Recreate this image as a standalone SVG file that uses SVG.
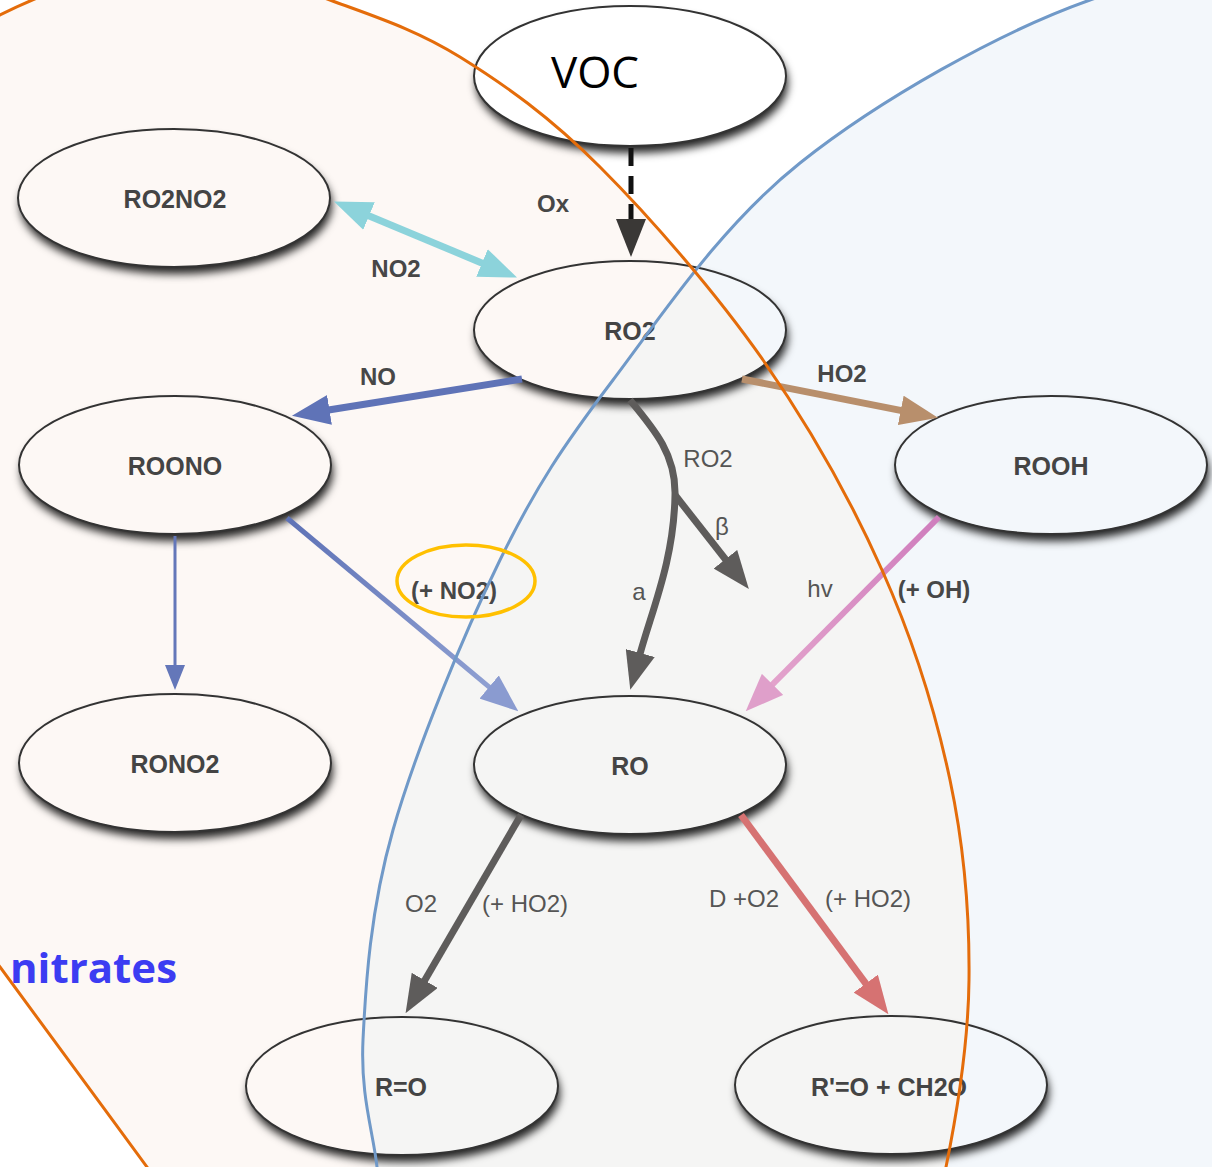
<svg xmlns="http://www.w3.org/2000/svg" width="1212" height="1167" viewBox="0 0 1212 1167">
<defs>
<style>
.node{fill:none;stroke:#333;stroke-width:2}
.shadow{fill:#000;filter:url(#sh)}
.nl{font-family:"Liberation Sans",Arial,sans-serif;font-weight:bold;font-size:25px;fill:#444;text-anchor:middle}
.el{font-family:"Liberation Sans",Arial,sans-serif;font-weight:bold;font-size:24px;fill:#474747;text-anchor:middle}
.er{font-family:"Liberation Sans",Arial,sans-serif;font-size:24px;fill:#555;text-anchor:middle}
.edge{fill:none;stroke-linecap:butt}
</style>
<filter id="sh" x="-10%" y="-20%" width="125%" height="150%">
<feGaussianBlur in="SourceAlpha" stdDeviation="4" result="b"/>
<feOffset in="b" dx="2" dy="7" result="o"/>
<feComposite in="o" in2="SourceAlpha" operator="out" result="c"/>
<feFlood flood-color="#000" flood-opacity="0.85"/>
<feComposite in2="c" operator="in"/>
</filter>
<marker id="aBlack" markerUnits="userSpaceOnUse" markerWidth="38" markerHeight="30" refX="1" refY="15" orient="auto" viewBox="0 0 38 30"><path d="M0,0 L38,15 L0,30 Z" fill="#3a3836"/></marker>
<marker id="aCyan" markerUnits="userSpaceOnUse" markerWidth="38" markerHeight="30" refX="1" refY="15" orient="auto-start-reverse" viewBox="0 0 38 30"><path d="M0,0 L38,15 L0,30 Z" fill="#8cd3db"/></marker>
<marker id="aBlue" markerUnits="userSpaceOnUse" markerWidth="38" markerHeight="30" refX="1" refY="15" orient="auto" viewBox="0 0 38 30"><path d="M0,0 L38,15 L0,30 Z" fill="#5f73b7"/></marker>
<marker id="aBlueL" markerUnits="userSpaceOnUse" markerWidth="38" markerHeight="30" refX="1" refY="15" orient="auto" viewBox="0 0 38 30"><path d="M0,0 L38,15 L0,30 Z" fill="#8a9bd0"/></marker>
<marker id="aBlueS" markerUnits="userSpaceOnUse" markerWidth="25" markerHeight="20" refX="1" refY="10" orient="auto" viewBox="0 0 25 20"><path d="M0,0 L25,10 L0,20 Z" fill="#6477b9"/></marker>
<marker id="aTan" markerUnits="userSpaceOnUse" markerWidth="38" markerHeight="30" refX="1" refY="15" orient="auto" viewBox="0 0 38 30"><path d="M0,0 L38,15 L0,30 Z" fill="#b88f6c"/></marker>
<marker id="aGray" markerUnits="userSpaceOnUse" markerWidth="38" markerHeight="30" refX="1" refY="15" orient="auto" viewBox="0 0 38 30"><path d="M0,0 L38,15 L0,30 Z" fill="#5e5c5b"/></marker>
<marker id="aPink" markerUnits="userSpaceOnUse" markerWidth="38" markerHeight="30" refX="1" refY="15" orient="auto" viewBox="0 0 38 30"><path d="M0,0 L38,15 L0,30 Z" fill="#df9fca"/></marker>
<marker id="aRed" markerUnits="userSpaceOnUse" markerWidth="38" markerHeight="30" refX="1" refY="15" orient="auto" viewBox="0 0 38 30"><path d="M0,0 L38,15 L0,30 Z" fill="#d67272"/></marker>
<linearGradient id="gBlue" gradientUnits="userSpaceOnUse" x1="287" y1="518" x2="490" y2="688"><stop offset="0" stop-color="#5e72b6"/><stop offset="1" stop-color="#8fa0d2"/></linearGradient>
<linearGradient id="gPink" gradientUnits="userSpaceOnUse" x1="939" y1="517" x2="772" y2="685"><stop offset="0" stop-color="#cf7dbd"/><stop offset="1" stop-color="#e3a3cc"/></linearGradient>
<clipPath id="clipBlue"><path d="M1200,-38 C1160,-25 1120,-10 1090,0 C1000,31.7 879.5,99.7 800,163 C720.5,226.3 663,313.8 613,380 C563,446.2 536.7,485 500,560 C463.3,635 415.8,750 393,830 C370.2,910 365.7,983.8 363,1040 C360.3,1096.2 373.3,1132 377,1167 L385,1250 L1300,1250 L1300,-70 L1200,-70 Z"/></clipPath>
</defs>

<rect width="1212" height="1167" fill="#ffffff"/>
<g id="regions">
<path id="blueFill" d="M1200,-38 C1160,-25 1120,-10 1090,0 C1000,31.7 879.5,99.7 800,163 C720.5,226.3 663,313.8 613,380 C563,446.2 536.7,485 500,560 C463.3,635 415.8,750 393,830 C370.2,910 365.7,983.8 363,1040 C360.3,1096.2 373.3,1132 377,1167 L385,1250 L1300,1250 L1300,-70 L1200,-70 Z" fill="#f3f7fb"/>
<path id="orangeFill" d="M0,967 C-250,634 -198,114 0,15 C117,-44 208,-44 330,0 C373,16 415,29 460,57 C505,85 549.5,116.5 600,167 C650.5,217.5 716,292.8 763,360 C810,427.2 850.8,500 882,570 C913.2,640 935.5,711.7 950,780 C964.5,848.3 969.7,915.5 969,980 C968.3,1044.5 957.5,1110.3 946,1167 C930,1250 200,1260 147,1167 C98,1100 48,1033 0,967 Z" fill="#fdf8f5"/>
<path id="overlapFill" d="M0,967 C-250,634 -198,114 0,15 C117,-44 208,-44 330,0 C373,16 415,29 460,57 C505,85 549.5,116.5 600,167 C650.5,217.5 716,292.8 763,360 C810,427.2 850.8,500 882,570 C913.2,640 935.5,711.7 950,780 C964.5,848.3 969.7,915.5 969,980 C968.3,1044.5 957.5,1110.3 946,1167 C930,1250 200,1260 147,1167 C98,1100 48,1033 0,967 Z" fill="#f5f5f4" clip-path="url(#clipBlue)"/>
</g>

<g id="node-VOC"><ellipse class="shadow" cx="630" cy="76" rx="156" ry="70"/><ellipse cx="630" cy="76" rx="156" ry="70" fill="#fff" stroke="#333" stroke-width="2"/><text x="595" y="88" font-family="'Open Sans',sans-serif" font-size="44" fill="#000" text-anchor="middle">VOC</text></g>
<g id="node-RO2NO2"><ellipse class="shadow" cx="174" cy="198" rx="156" ry="69"/><ellipse class="node" cx="174" cy="198" rx="156" ry="69"/><text class="nl" x="175" y="208">RO2NO2</text></g>
<g id="node-RO2"><ellipse class="shadow" cx="630" cy="330" rx="156" ry="69"/><ellipse class="node" cx="630" cy="330" rx="156" ry="69"/><text class="nl" x="630" y="340">RO2</text></g>
<g id="node-ROONO"><ellipse class="shadow" cx="175" cy="465" rx="156" ry="69"/><ellipse class="node" cx="175" cy="465" rx="156" ry="69"/><text class="nl" x="175" y="475">ROONO</text></g>
<g id="node-ROOH"><ellipse class="shadow" cx="1051" cy="465" rx="156" ry="69"/><ellipse class="node" cx="1051" cy="465" rx="156" ry="69"/><text class="nl" x="1051" y="475">ROOH</text></g>
<g id="node-RONO2"><ellipse class="shadow" cx="175" cy="763" rx="156" ry="69"/><ellipse class="node" cx="175" cy="763" rx="156" ry="69"/><text class="nl" x="175" y="773">RONO2</text></g>
<g id="node-RO"><ellipse class="shadow" cx="630" cy="765" rx="156" ry="69"/><ellipse class="node" cx="630" cy="765" rx="156" ry="69"/><text class="nl" x="630" y="775">RO</text></g>
<g id="node-RdO"><ellipse class="shadow" cx="402" cy="1086" rx="156" ry="69"/><ellipse class="node" cx="402" cy="1086" rx="156" ry="69"/><text class="nl" x="401" y="1096">R=O</text></g>
<g id="node-RpO"><ellipse class="shadow" cx="891" cy="1085" rx="156" ry="69"/><ellipse class="node" cx="891" cy="1085" rx="156" ry="69"/><text class="nl" x="889" y="1096">R'=O + CH2O</text></g>

<g id="connectors">
<path class="edge" d="M631,148 L631,220" stroke="#111" stroke-width="5" stroke-dasharray="18 10" marker-end="url(#aBlack)"/>
<path class="edge" d="M368.1,215.6 L482.9,263.4" stroke="#8cd3db" stroke-width="7" marker-start="url(#aCyan)" marker-end="url(#aCyan)"/>
<path class="edge" d="M522,379 L328.5,410" stroke="#5f73b7" stroke-width="7" marker-end="url(#aBlue)"/>
<path class="edge" d="M742,379 L901.7,410.6" stroke="#b88f6c" stroke-width="7" marker-end="url(#aTan)"/>
<path class="edge" d="M630,400 C655,430 676,455 675,495 C674,560 652,610 640,654" stroke="#5e5c5b" stroke-width="7" marker-end="url(#aGray)"/>
<path class="edge" d="M675,495 L726,560" stroke="#5e5c5b" stroke-width="7" marker-end="url(#aGray)"/>
<path class="edge" d="M175,536 L175,666" stroke="#6477b9" stroke-width="3" marker-end="url(#aBlueS)"/>
<path class="edge" d="M287,518 L489.9,687.6" stroke="url(#gBlue)" stroke-width="5" marker-end="url(#aBlueL)"/>
<path class="edge" d="M939,517 L771.8,685.1" stroke="url(#gPink)" stroke-width="6" marker-end="url(#aPink)"/>
<path class="edge" d="M521,815 L424.2,981.2" stroke="#5e5c5b" stroke-width="7" marker-end="url(#aGray)"/>
<path class="edge" d="M741,815 L866.4,984.4" stroke="#d67272" stroke-width="7" marker-end="url(#aRed)"/>
<text class="el" x="553" y="212">Ox</text>
<text class="el" x="396" y="277">NO2</text>
<text class="el" x="378" y="385">NO</text>
<text class="el" x="842" y="382">HO2</text>
<text class="er" x="708" y="467">RO2</text>
<text class="er" x="722" y="535" font-size="20">β</text>
<text class="er" x="639" y="600" font-size="22">a</text>
<text class="el" x="454" y="599">(+ NO2)</text>
<text class="er" x="820" y="597">hv</text>
<text class="el" x="934" y="598">(+ OH)</text>
<text class="er" x="421" y="912">O2</text>
<text class="er" x="525" y="912">(+ HO2)</text>
<text class="er" x="744" y="907">D +O2</text>
<text class="er" x="868" y="907">(+ HO2)</text>
</g>

<g id="outlines">
<path d="M1200,-38 C1160,-25 1120,-10 1090,0 C1000,31.7 879.5,99.7 800,163 C720.5,226.3 663,313.8 613,380 C563,446.2 536.7,485 500,560 C463.3,635 415.8,750 393,830 C370.2,910 365.7,983.8 363,1040 C360.3,1096.2 373.3,1132 377,1167 L385,1250" fill="none" stroke="#7099c8" stroke-width="3"/>
<path d="M0,967 C-250,634 -198,114 0,15 C117,-44 208,-44 330,0 C373,16 415,29 460,57 C505,85 549.5,116.5 600,167 C650.5,217.5 716,292.8 763,360 C810,427.2 850.8,500 882,570 C913.2,640 935.5,711.7 950,780 C964.5,848.3 969.7,915.5 969,980 C968.3,1044.5 957.5,1110.3 946,1167 C930,1250 200,1260 147,1167 C98,1100 48,1033 0,967 Z" fill="none" stroke="#e46c0a" stroke-width="3"/>
<ellipse id="highlight" cx="466" cy="581" rx="69" ry="36" fill="none" stroke="#ffc000" stroke-width="3.5"/>
<text id="nitrates" x="10" y="983" font-family="'Open Sans',sans-serif" font-weight="bold" font-size="42" fill="#3c3cf2">nitrates</text>
</g>
</svg>
